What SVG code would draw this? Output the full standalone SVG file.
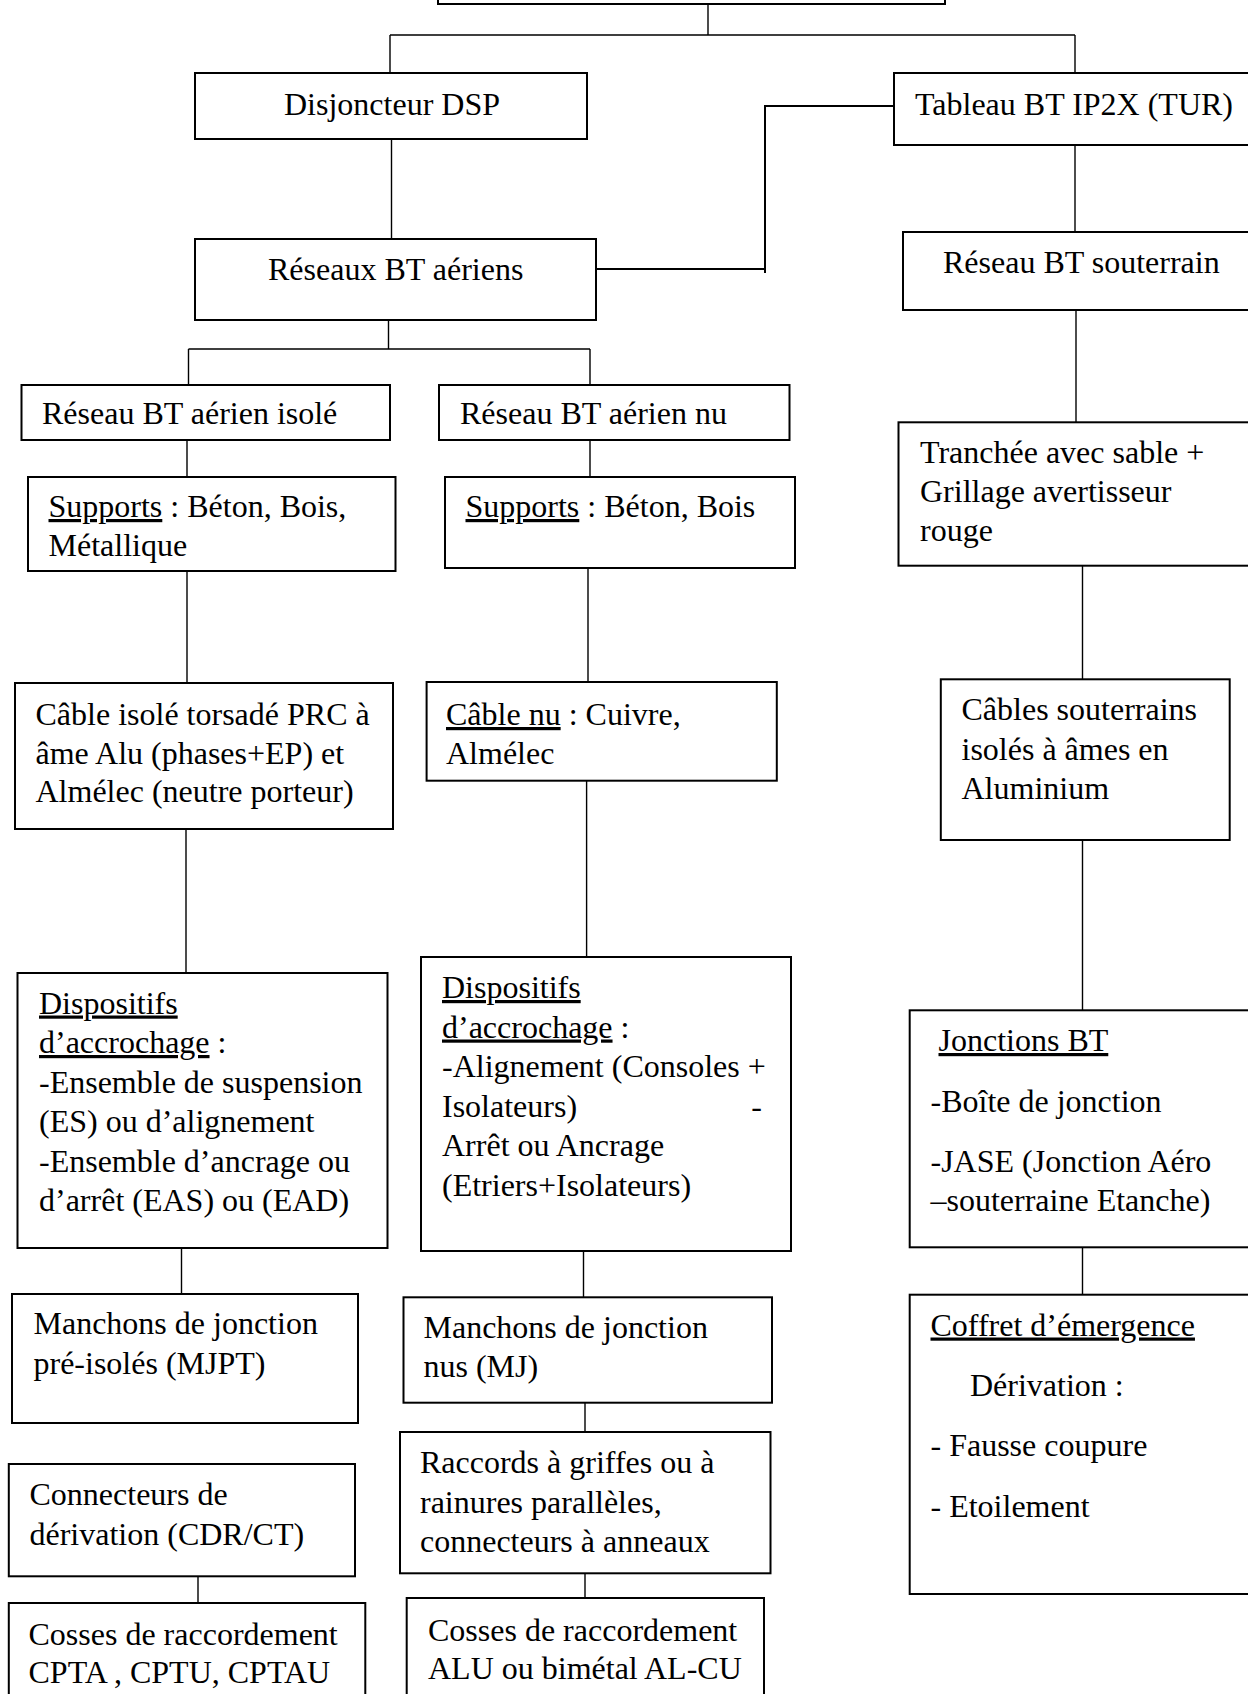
<svg xmlns="http://www.w3.org/2000/svg" width="1248" height="1694" viewBox="0 0 1248 1694">
<style>
.box{fill:#fff;stroke:#000;stroke-width:2}
.ln{fill:none;stroke:#000;stroke-width:1.4}
.ln2{fill:none;stroke:#000;stroke-width:2}
text{font-family:"Liberation Serif","Times New Roman",serif;font-size:32px;fill:#000}
.u{text-decoration:underline}
</style>
<rect width="1248" height="1694" fill="#fff"/>
<g id="connectors">
<path class="ln" d="M708 4V35M390 35H1075M390 35V73M1075 35V73"/>
<path class="ln" d="M391.5 139V239"/>
<path class="ln2" d="M894 106H765V273M596 269H765"/>
<path class="ln" d="M1075 145V232"/>
<path class="ln" d="M388.5 320V349M188.5 349H590M188.5 349V385M590 349V385"/>
<path class="ln" d="M1076 310V422"/>
<path class="ln" d="M187 440V477M590 440V477"/>
<path class="ln" d="M187 571V683M588 568V682M1082.5 566V679"/>
<path class="ln" d="M186 829V973M586.6 781V957M1082.5 840V1010"/>
<path class="ln" d="M181.5 1248V1294M583.5 1251V1297M1082.5 1247V1295"/>
<path class="ln" d="M585 1403V1432M198 1576V1603M585 1573V1598"/>
</g>
<g id="n-top"><rect class="box" x="438" y="-20" width="507" height="24"/></g>
<g id="n-dsp"><rect class="box" x="195" y="73" width="392" height="66"/><text x="284" y="114.5">Disjoncteur DSP</text></g>
<g id="n-tab"><rect class="box" x="894" y="73" width="366" height="72"/><text x="915" y="114.5">Tableau BT IP2X (TUR)</text></g>
<g id="n-aer"><rect class="box" x="195" y="239" width="401" height="81"/><text x="268" y="280">Réseaux BT aériens</text></g>
<g id="n-sout"><rect class="box" x="903" y="232" width="357" height="78"/><text x="943" y="272.5">Réseau BT souterrain</text></g>
<g id="n-isole"><rect class="box" x="21.5" y="385" width="368.5" height="55"/><text x="42" y="424">Réseau BT aérien isolé</text></g>
<g id="n-nu"><rect class="box" x="439" y="385" width="350.5" height="55"/><text x="460" y="424">Réseau BT aérien nu</text></g>
<g id="n-sup1"><rect class="box" x="28" y="477" width="367.5" height="94"/><text x="48.5" y="517"><tspan class="u">Supports</tspan> : Béton, Bois,</text><text x="48.5" y="556">Métallique</text></g>
<g id="n-sup2"><rect class="box" x="445" y="477" width="350" height="91"/><text x="465.5" y="517"><tspan class="u">Supports</tspan> : Béton, Bois</text></g>
<g id="n-tranchee"><rect class="box" x="898.5" y="422.3" width="361.5" height="143.4"/><text x="920" y="463">Tranchée avec sable +</text><text x="920" y="502">Grillage avertisseur</text><text x="920" y="541">rouge</text></g>
<g id="n-cable1"><rect class="box" x="15" y="683" width="378" height="146"/><text x="35.5" y="725">Câble isolé torsadé PRC à</text><text x="35.5" y="763.5">âme Alu (phases+EP) et</text><text x="35.5" y="802">Almélec (neutre porteur)</text></g>
<g id="n-cable2"><rect class="box" x="426.6" y="682" width="350.2" height="98.7"/><text x="446" y="725"><tspan class="u">Câble nu</tspan> : Cuivre,</text><text x="446" y="763.5">Almélec</text></g>
<g id="n-cable3"><rect class="box" x="940.8" y="679.3" width="288.9" height="160.7"/><text x="961.5" y="720">Câbles souterrains</text><text x="961.5" y="759.5">isolés à âmes en</text><text x="961.5" y="799">Aluminium</text></g>
<g id="n-disp1"><rect class="box" x="17.5" y="973" width="370" height="275"/><text x="39" y="1013.5" class="u">Dispositifs</text><text x="39" y="1053"><tspan class="u">d’accrochage</tspan> :</text><text x="39" y="1092.5">-Ensemble de suspension</text><text x="39" y="1132">(ES) ou d’alignement</text><text x="39" y="1171.5">-Ensemble d’ancrage ou</text><text x="39" y="1211">d’arrêt (EAS) ou (EAD)</text></g>
<g id="n-disp2"><rect class="box" x="421" y="957" width="370" height="294"/><text x="442" y="998" class="u">Dispositifs</text><text x="442" y="1037.5"><tspan class="u">d’accrochage</tspan> :</text><text x="442" y="1077">-Alignement (Consoles +</text><text x="442" y="1116.5">Isolateurs)<tspan x="762" text-anchor="end">-</tspan></text><text x="442" y="1156">Arrêt ou Ancrage</text><text x="442" y="1195.5">(Etriers+Isolateurs)</text></g>
<g id="n-jonc"><rect class="box" x="909.7" y="1010.3" width="350.3" height="237"/><text x="938.5" y="1051" class="u">Jonctions BT</text><text x="930.5" y="1111.5">-Boîte de jonction</text><text x="930.5" y="1172">-JASE (Jonction Aéro</text><text x="930.5" y="1211">–souterraine Etanche)</text></g>
<g id="n-manch1"><rect class="box" x="12" y="1294" width="346" height="129"/><text x="33.5" y="1334">Manchons de jonction</text><text x="33.5" y="1373.5">pré-isolés (MJPT)</text></g>
<g id="n-manch2"><rect class="box" x="403.5" y="1297.3" width="368.5" height="105.4"/><text x="423.5" y="1337.5">Manchons de jonction</text><text x="423.5" y="1377">nus (MJ)</text></g>
<g id="n-coffret"><rect class="box" x="909.7" y="1294.7" width="350.3" height="299.3"/><text x="930.5" y="1335.5" class="u">Coffret d’émergence</text><text x="970" y="1395.5">Dérivation :</text><text x="930.5" y="1456">- Fausse coupure</text><text x="930.5" y="1517">- Etoilement</text></g>
<g id="n-racc"><rect class="box" x="400" y="1432" width="370.5" height="141.3"/><text x="420" y="1473">Raccords à griffes ou à</text><text x="420" y="1512.5">rainures parallèles,</text><text x="420" y="1551.5">connecteurs à anneaux</text></g>
<g id="n-conn"><rect class="box" x="8.8" y="1464" width="346.2" height="112.3"/><text x="29.5" y="1505">Connecteurs de</text><text x="29.5" y="1544.5">dérivation (CDR/CT)</text></g>
<g id="n-cosse1"><rect class="box" x="8.8" y="1603" width="356.5" height="120"/><text x="28.5" y="1645">Cosses de raccordement</text><text x="28.5" y="1683">CPTA , CPTU, CPTAU</text></g>
<g id="n-cosse2"><rect class="box" x="406.7" y="1598" width="357.3" height="125"/><text x="428" y="1641">Cosses de raccordement</text><text x="428" y="1679">ALU ou bimétal AL-CU</text></g>
</svg>
